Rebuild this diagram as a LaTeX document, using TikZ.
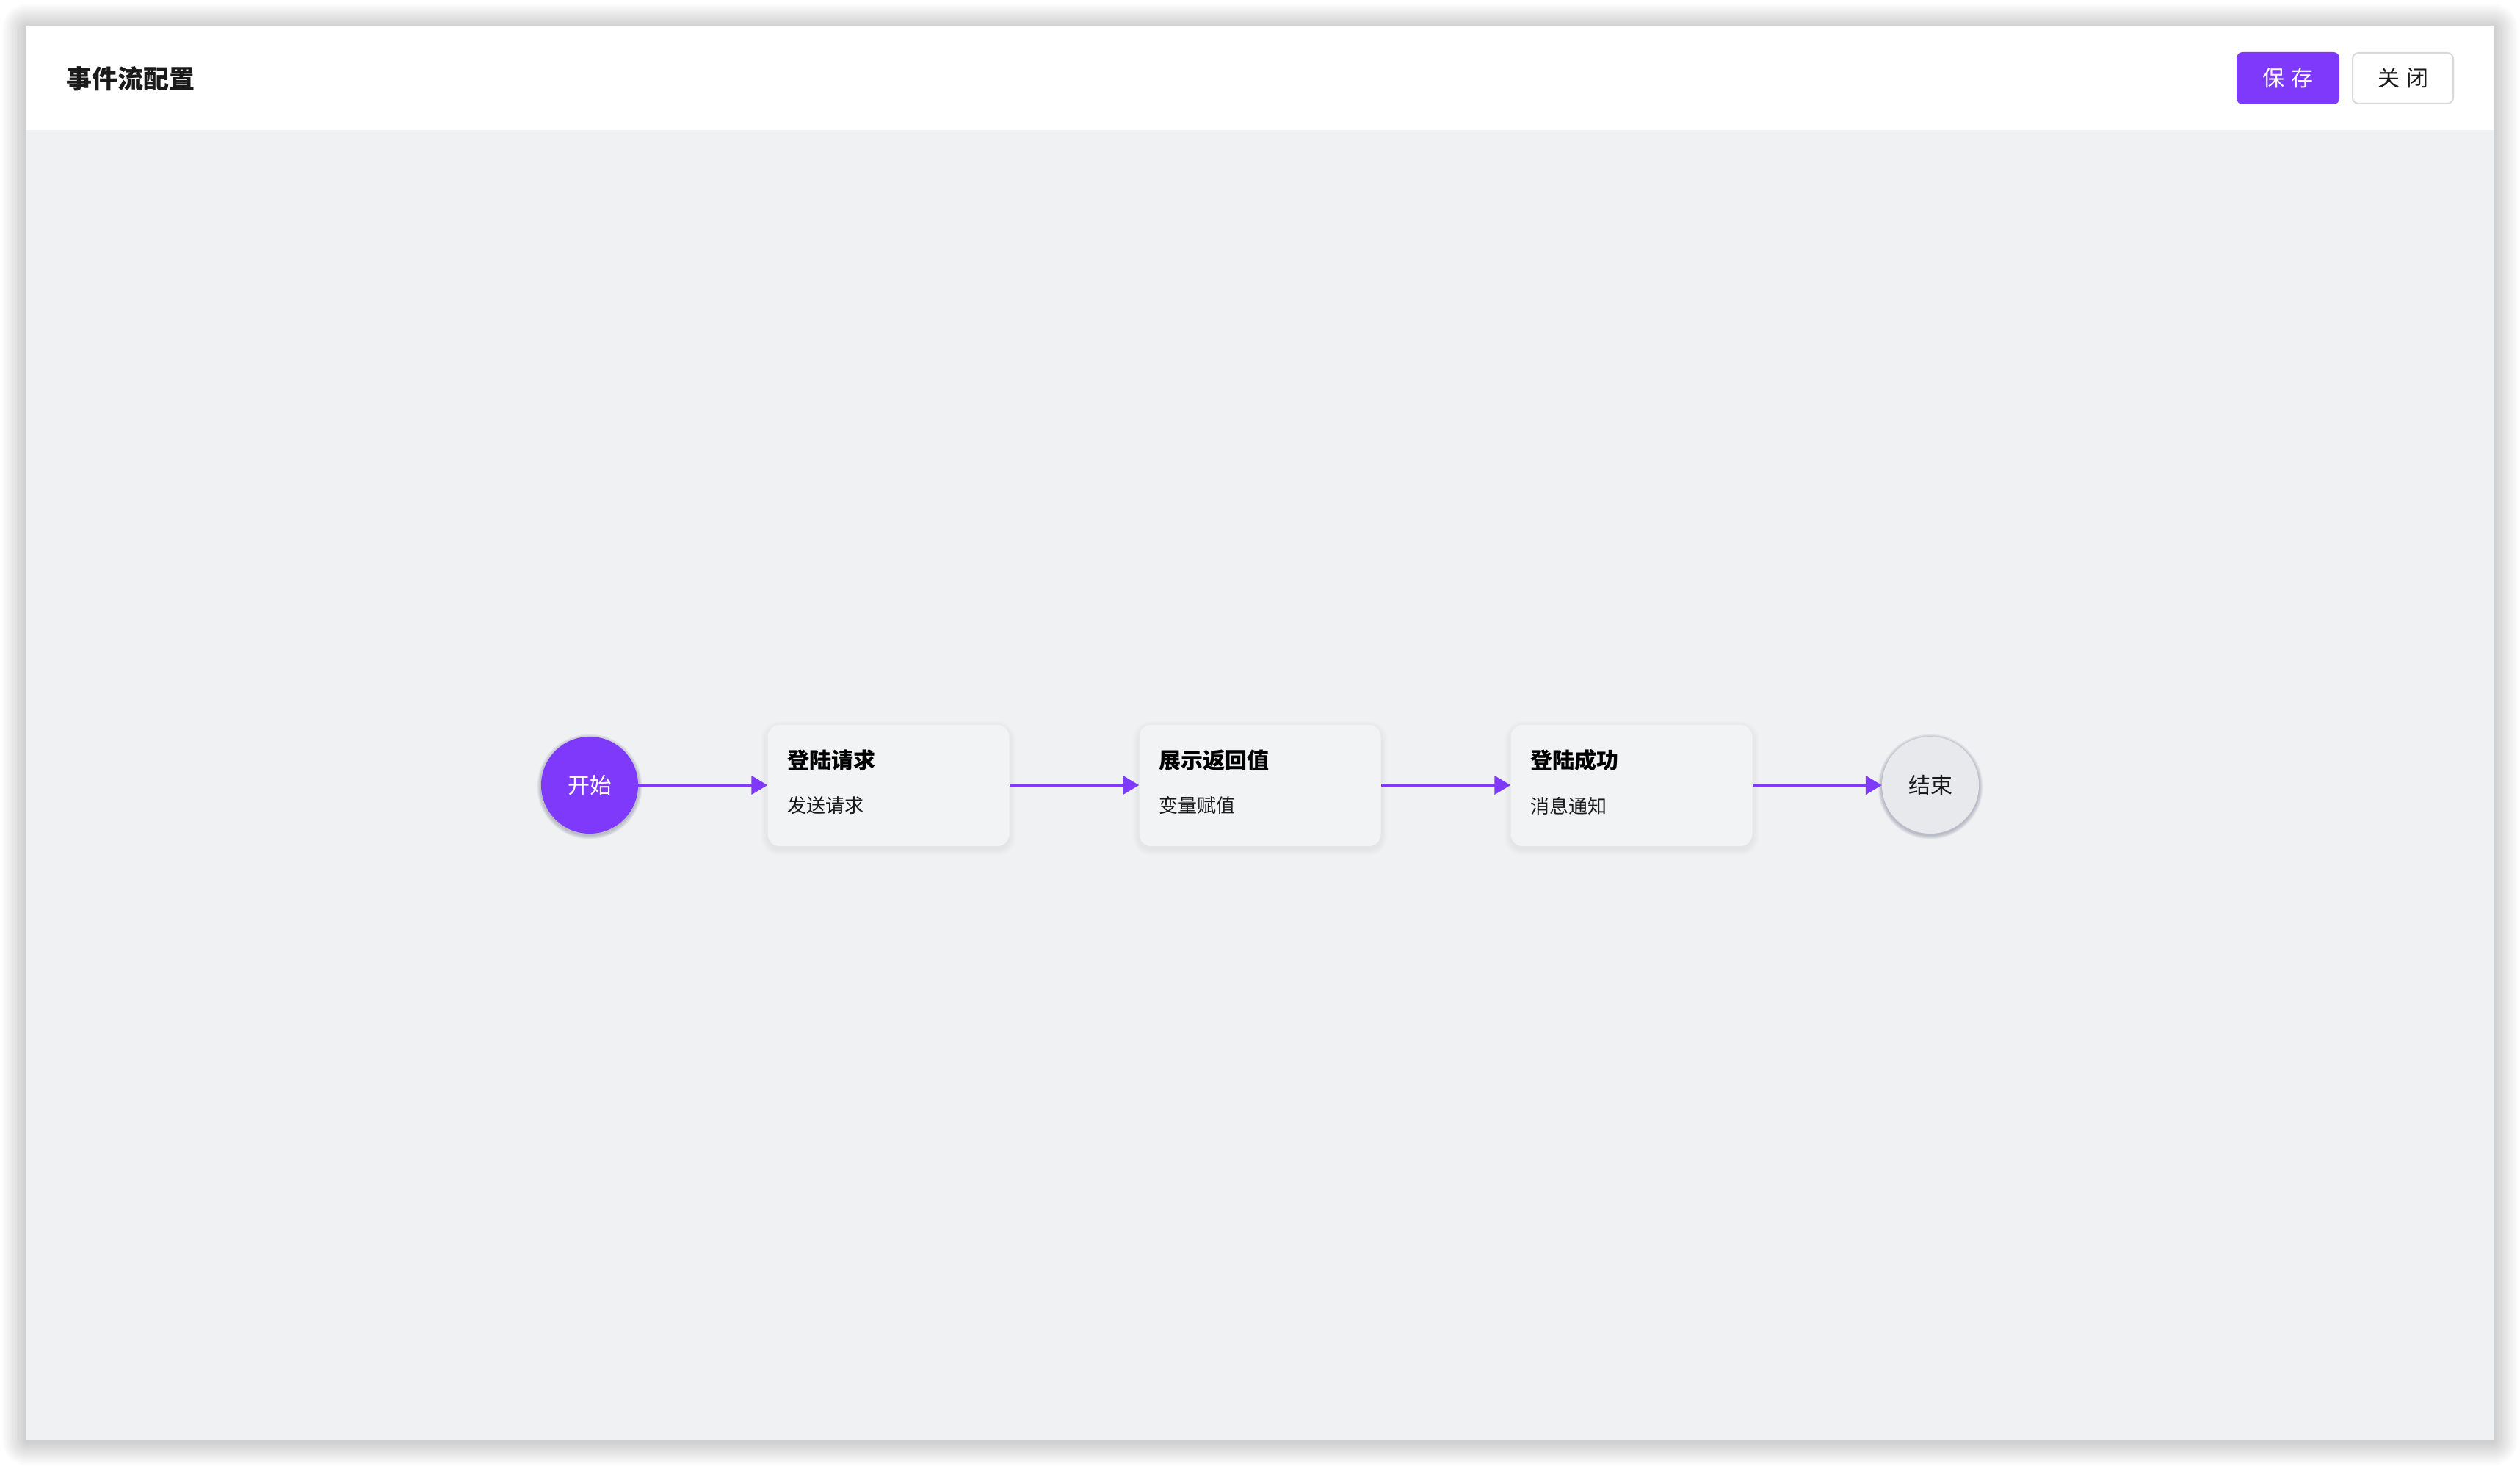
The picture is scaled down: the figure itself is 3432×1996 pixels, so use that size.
\documentclass[tikz,border=0pt]{standalone}
\usepackage{fontspec}
\setmainfont{Noto Sans CJK SC}
\usetikzlibrary{arrows.meta}
\definecolor{bgc}{RGB}{240,241,243}
\definecolor{boxc}{RGB}{242,243,245}
\definecolor{purp}{RGB}{127,57,251}
\definecolor{endc}{RGB}{232,233,236}
\definecolor{txt}{RGB}{26,26,26}
\definecolor{btnb}{RGB}{217,217,217}
\definecolor{shadc}{RGB}{70,80,110}
\begin{document}
\begin{tikzpicture}[x=1pt,y=-1pt,
  flowbox/.style={rectangle, rounded corners=16pt, fill=boxc, minimum width=329pt, minimum height=165pt, inner sep=0pt},
  boxtitle/.style={anchor=west, inner sep=0pt, text=black, font=\bfseries\fontsize{30}{30}\selectfont},
  boxsub/.style={anchor=west, inner sep=0pt, text=txt, font=\fontsize{26}{26}\selectfont},
  startnode/.style={circle, fill=purp, minimum size=132pt, inner sep=0pt, text=white, font=\fontsize{30}{30}\selectfont},
  endnode/.style={circle, fill=endc, minimum size=132pt, inner sep=0pt, text=txt, font=\fontsize{30}{30}\selectfont},
  flow/.style={draw=purp, line width=4.5pt, -{Triangle[length=22pt,width=25pt]}},
  btnfont/.style={font=\fontsize{30}{30}\selectfont}
]
\useasboundingbox (0,0) rectangle (3432,1996);
\fill[white] (0,0) rectangle (3432,1996);
% window shadow
\foreach \i in {1,...,12}{
  \pgfmathsetmacro{\d}{2.7*\i}
  \fill[black,opacity=0.014,rounded corners=\d pt] (36-\d,36-\d+2) rectangle (3396+\d,1960+\d+2);
}
% window
\fill[bgc] (36,36) rectangle (3396,1960);
\fill[white] (36,36) rectangle (3396,177);
\node[anchor=west, inner sep=0pt, text=txt, font=\bfseries\fontsize{35}{35}\selectfont] (title) at (90,107) {事件流配置};
% buttons
\node[fill=purp, rounded corners=8pt, minimum width=140pt, minimum height=71pt, inner sep=0pt, text=white, btnfont] (save) at (3116,106.5) {保\hspace{9pt}存};
\node[fill=white, draw=btnb, line width=2pt, rounded corners=8pt, minimum width=137pt, minimum height=69pt, inner sep=0pt, text=txt, btnfont] (close) at (3272.5,106.5) {关\hspace{9pt}闭};
% box shadows
\foreach \cx in {1210,1716,2222}{
  \foreach \i in {1,...,6}{
    \pgfmathsetmacro{\d}{1.5*\i}
    \pgfmathsetmacro{\rr}{16+\d}
    \fill[black,opacity=0.009,rounded corners=\rr pt] (\cx-164.5-\d,987-\d+4) rectangle (\cx+164.5+\d,1152+\d+4);
  }
}
% circle shadows
\foreach \cx in {803,2629}{
  \foreach \i in {1,...,5}{
    \fill[shadc,opacity=0.07] (\cx,1071) circle (66+\i*1.1);
  }
}
% nodes
\node[startnode] (start) at (803,1069) {开始};
\node[flowbox] (b1) at (1210,1069.5) {};
\node[flowbox] (b2) at (1716,1069.5) {};
\node[flowbox] (b3) at (2222,1069.5) {};
\node[endnode] (end) at (2629,1069) {结束};
\node[boxtitle] (b1t) at ([xshift=27pt,yshift=34.5pt]b1.west) {登陆请求};
\node[boxsub] (b1s) at ([xshift=27pt,yshift=-27.5pt]b1.west) {发送请求};
\node[boxtitle] (b2t) at ([xshift=27pt,yshift=34.5pt]b2.west) {展示返回值};
\node[boxsub] (b2s) at ([xshift=27pt,yshift=-27.5pt]b2.west) {变量赋值};
\node[boxtitle] (b3t) at ([xshift=27pt,yshift=34.5pt]b3.west) {登陆成功};
\node[boxsub] (b3s) at ([xshift=27pt,yshift=-27.5pt]b3.west) {消息通知};
% connectors
\draw[flow] (start.east) -- (b1.west |- start.east);
\draw[flow] (b1.east |- start.east) -- (b2.west |- start.east);
\draw[flow] (b2.east |- start.east) -- (b3.west |- start.east);
\draw[flow] (b3.east |- start.east) -- (end.west);
\end{tikzpicture}
\end{document}
